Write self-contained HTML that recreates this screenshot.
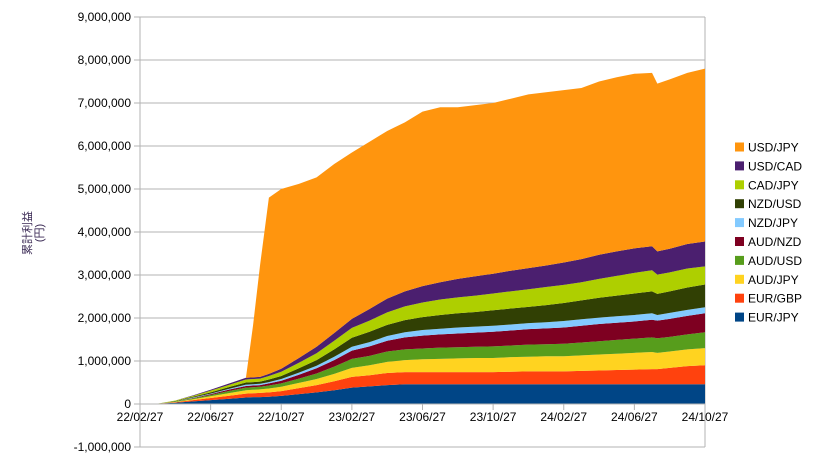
<!DOCTYPE html>
<html><head><meta charset="utf-8"><style>
html,body{margin:0;padding:0;background:#fff;}
body{width:834px;height:464px;overflow:hidden;font-family:"Liberation Sans","Noto Sans CJK JP",sans-serif;}
</style></head><body>
<svg id="chart" width="834" height="464" xmlns="http://www.w3.org/2000/svg" font-family="Liberation Sans, Noto Sans CJK JP, sans-serif">
<g id="grid"></g>
<g id="areas"></g>
<g id="axes"></g>
<g id="legend"></g>
<text transform="translate(31,233) rotate(-90)" text-anchor="middle" font-size="11" fill="#3b2a55">累計利益</text>
<text transform="translate(43,233) rotate(-90)" text-anchor="middle" font-size="11" fill="#3b2a55">(円)</text>
</svg>
<script>
const months = [0,1,2,3,4,5,6,6.4,6.8,7.3,8,9,10,11,12,13,14,15,16,17,18,19,20,21,22,23,24,25,26,27,28,29,29.3,30,31,32];
const seriesNames = ["EUR/JPY","EUR/GBP","AUD/JPY","AUD/USD","AUD/NZD","NZD/JPY","NZD/USD","CAD/JPY","USD/CAD","USD/JPY"];
const seriesColors = ["#004586","#ff420e","#ffd320","#579d1c","#7e0021","#83caff","#314004","#aecf00","#4b1f6f","#ff950e"];
// values in units of 10,000 yen
const eurJpy = [0,1,3,6,9,12,15,16,16,17,19,23,27,32,38,41,44,46,46,46,46,46,46,46,46,46,46,46,46,46,46,46,46,46,46,46];
const eurGbp = [0,0,1,3,5,7,9,9,10,10,11,14,17,21,25,26,28,28,28,28,28,28,28,29,30,30,30,31,32,33,34,35,35,38,42,44];
const audJpy = [0,0,1,2,4,6,8,8,8,9,10,12,14,17,21,23,26,28,30,31,32,33,33,34,34,35,35,36,37,38,39,40,38,38,39,40];
const audUsd = [0,0,1,2,3,5,6,6,6,7,8,10,13,17,21,22,24,25,25,26,26,26,27,27,28,28,29,30,31,32,33,34,34,34,35,37];
const audNzd = [0,0,0,1,2,3,4,4,4,5,6,9,12,15,19,22,25,28,30,31,32,33,34,35,36,37,38,39,40,40,40,41,41,42,43,44];
const nzdJpy = [0,0,0,1,1,2,3,3,3,3,4,5,6,8,9,10,11,12,13,13,14,14,14,14,14,14,15,15,15,15,15,15,13,14,14,14];
const nzdUsd = [0,0,1,2,3,4,5,5,5,6,7,10,13,17,21,24,26,28,30,32,33,34,36,37,38,40,42,44,46,48,50,51,49,50,52,53];
const cadJpy = [0,0,1,2,4,5,7,7,7,8,10,13,16,20,23,26,29,32,34,36,37,38,39,40,41,42,42,42,44,46,48,49,45,44,44,42];
const usdCad = [0,0,0,1,2,3,4,4,4,5,7,11,15,18,21,27,32,35,38,40,43,45,46,48,49,50,52,54,56,57,57,56,54,55,57,58];
const usdJpy = [0,0,0,0,0,0,0,120,260,410,418,405,394,393,387,389,390,393,406,407,399,398,397,400,404,403,401,398,403,405,406,403,390,394,398,402];
const yTicks = [-1000000,0,1000000,2000000,3000000,4000000,5000000,6000000,7000000,8000000,9000000];
const xTickLabels = ["22/02/27","22/06/27","22/10/27","23/02/27","23/06/27","23/10/27","24/02/27","24/06/27","24/10/27"];
const xTickMonths = [0,4,8,12,16,20,24,28,32];

const NS="http://www.w3.org/2000/svg";
const X0=140,X1=705,Y0=404,YTOP=17;
const xScale=m=>X0+(m/32)*(X1-X0);
const yScale=v=>Y0-(v/9000000)*(Y0-YTOP);
function mk(tag,attrs,parent){const e=document.createElementNS(NS,tag);for(const k in attrs)e.setAttribute(k,attrs[k]);parent.appendChild(e);return e;}
const grid=document.getElementById('grid'),axes=document.getElementById('axes'),areas=document.getElementById('areas'),legend=document.getElementById('legend');

yTicks.forEach(t=>{
  const y=yScale(t);
  const l=mk('line',{x1:X0,x2:X1,y1:y,y2:y,stroke:'#b3b3b3','stroke-width':1},grid);
  
  
  const tk=mk('line',{x1:X0-6,x2:X0,y1:y,y2:y,stroke:'#b3b3b3'},axes);
  
  
  const tx=mk('text',{x:X0-9,y:y+4,'text-anchor':'end','font-size':12,fill:'#000'},axes);
  tx.textContent=t.toLocaleString('en-US');
  
  
});
const vr=mk('line',{x1:X1,x2:X1,y1:YTOP,y2:yScale(-1000000),stroke:'#b3b3b3'},grid);



const all=[eurJpy,eurGbp,audJpy,audUsd,audNzd,nzdJpy,nzdUsd,cadJpy,usdCad,usdJpy];
let base=months.map(()=>0);
all.forEach((s,i)=>{
  const top=base.map((b,j)=>b+s[j]*10000);
  let pts=months.map((m,j)=>xScale(m)+','+yScale(top[j]));
  for(let j=months.length-1;j>=0;j--)pts.push(xScale(months[j])+','+yScale(base[j]));
  const p=mk('polygon',{points:pts.join(' '),fill:seriesColors[i]},areas);
  
  
  base=top;
});

const ya=mk('line',{x1:X0,x2:X0,y1:YTOP,y2:yScale(-1000000),stroke:'#b3b3b3'},axes);


const xa=mk('line',{x1:X0,x2:X1,y1:Y0,y2:Y0,stroke:'#b3b3b3'},axes);


xTickMonths.forEach((m,i)=>{
  const x=xScale(m);
  const tk=mk('line',{x1:x,x2:x,y1:Y0,y2:Y0+6,stroke:'#b3b3b3'},axes);
  
  
  const tx=mk('text',{x:x,y:Y0+17,'text-anchor':'middle','font-size':12,fill:'#000'},axes);
  tx.textContent=xTickLabels[i];
  
  
});

for(let k=0;k<seriesNames.length;k++){
  const i=seriesNames.length-1-k;
  const y=147+k*18.9;
  const g=mk('g',{},legend);
  
  
  mk('rect',{x:735,y:y-4.5,width:9,height:9,fill:seriesColors[i]},g);
  const t=mk('text',{x:748,y:y+4.5,'font-size':12,fill:'#000'},g);
  t.textContent=seriesNames[i];
}
</script>
</body></html>
